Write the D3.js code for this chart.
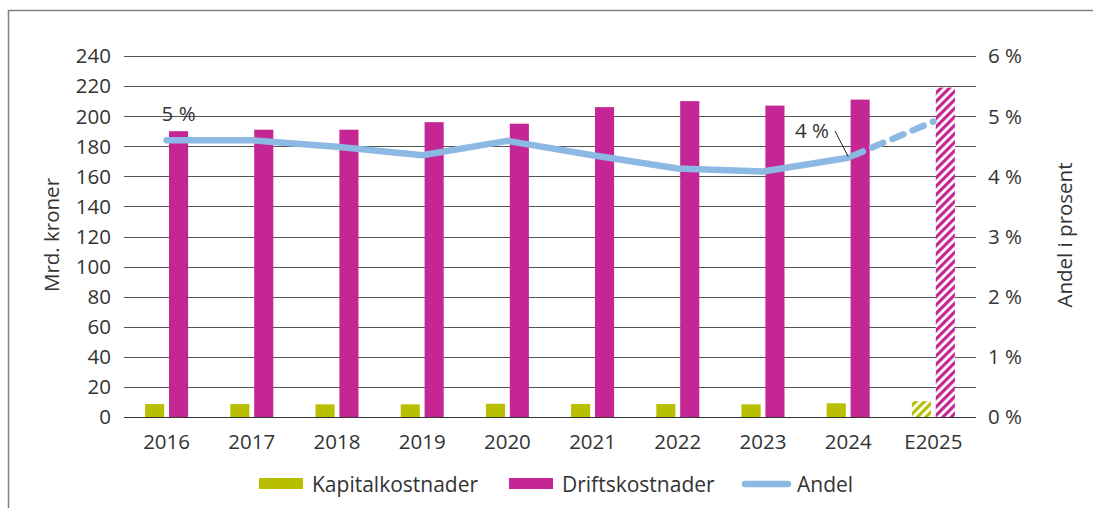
<!DOCTYPE html>
<html>
<head>
<meta charset="utf-8">
<script src="https://cdn.jsdelivr.net/npm/d3@7"></script>
<style>
  body { margin: 0; background: #fff; }
  text { font-family: "Open Sans", sans-serif; fill: #333; }
</style>
</head>
<body>
<div id="chart"></div>
<script>
var years = ["2016", "2017", "2018", "2019", "2020", "2021", "2022", "2023", "2024", "E2025"];
var kapital = [8.6, 8.6, 8.4, 8.4, 8.8, 8.7, 8.6, 8.4, 9.1, 10.6];
var drift = [190, 191, 191, 196, 195, 206, 210, 207, 211, 219];
var andel = [4.60, 4.60, 4.49, 4.35, 4.59, 4.35, 4.13, 4.08, 4.31, 4.91];
var leftTicks = [0, 20, 40, 60, 80, 100, 120, 140, 160, 180, 200, 220, 240];
var rightTicks = [0, 1, 2, 3, 4, 5, 6];

var W = 1093, H = 508;
var fs = 20.5;
var green = "#b8bf00", magenta = "#c42694", blue = "#8cb9e4";

var svg = d3.select("#chart").append("svg")
    .attr("width", W)
    .attr("height", H);

// hatch patterns for the estimate year
var defs = svg.append("defs");
function hatch(id, color) {
    var p = defs.append("pattern")
        .attr("id", id)
        .attr("patternUnits", "userSpaceOnUse")
        .attr("width", 6)
        .attr("height", 6)
        .attr("patternTransform", "rotate(45)");
    p.append("rect").attr("width", 6).attr("height", 6).attr("fill", "#fff");
    p.append("rect").attr("width", 3.2).attr("height", 6).attr("fill", color);
}
hatch("hatchGreen", green);
hatch("hatchMagenta", magenta);

// frame
svg.append("path")
    .attr("d", "M8.5," + H + "V10.5H" + W)
    .attr("fill", "none")
    .attr("stroke", "#808080")
    .attr("stroke-width", 1.5);

var x0 = d3.scaleBand().domain(years).range([124, 976]);
var x1 = d3.scaleBand().domain(["k", "d"]).range([0, 43]).paddingInner(0.2);
var y = d3.scaleLinear().domain([0, 240]).range([417, 56]);
var y2 = d3.scaleLinear().domain([0, 6]).range([417, 56]);

function cx(d) { return x0(d) + x0.bandwidth() / 2; }

// gridlines
svg.append("g")
    .selectAll("line")
    .data(leftTicks)
    .join("line")
    .attr("x1", 124)
    .attr("x2", 976)
    .attr("y1", d => Math.round(y(d)) + 0.5)
    .attr("y2", d => Math.round(y(d)) + 0.5)
    .attr("stroke", d => d == 0 ? "#333" : "#555")
    .attr("stroke-width", 1.2);

// left ticks
svg.append("g")
    .selectAll("text")
    .data(leftTicks)
    .join("text")
    .attr("x", 111)
    .attr("y", d => y(d))
    .attr("dy", "0.36em")
    .attr("text-anchor", "end")
    .attr("font-size", fs)
    .text(d => d);

// right ticks
svg.append("g")
    .selectAll("text")
    .data(rightTicks)
    .join("text")
    .attr("x", 988)
    .attr("y", d => y2(d))
    .attr("dy", "0.36em")
    .attr("font-size", fs)
    .text(d => d + " %");

// category labels
svg.append("g")
    .selectAll("text")
    .data(years)
    .join("text")
    .attr("x", d => cx(d))
    .attr("y", 449)
    .attr("text-anchor", "middle")
    .attr("font-size", fs)
    .text(d => d);

// axis titles
svg.append("text")
    .attr("transform", "translate(59,235) rotate(-90)")
    .attr("text-anchor", "middle")
    .attr("font-size", fs)
    .text("Mrd. kroner");
svg.append("text")
    .attr("transform", "translate(1072,235) rotate(-90)")
    .attr("text-anchor", "middle")
    .attr("font-size", fs)
    .text("Andel i prosent");

// bars
var last = years[years.length - 1];
svg.append("g")
    .selectAll("rect")
    .data(years)
    .join("rect")
    .attr("x", d => cx(d) - 21.5 + x1("k"))
    .attr("width", x1.bandwidth())
    .attr("y", (d, i) => y(kapital[i]))
    .attr("height", (d, i) => y(0) - y(kapital[i]))
    .attr("fill", d => d == last ? "url(#hatchGreen)" : green);

svg.append("g")
    .selectAll("rect")
    .data(years)
    .join("rect")
    .attr("x", d => cx(d) - 21.5 + x1("d"))
    .attr("width", x1.bandwidth())
    .attr("y", (d, i) => y(drift[i]))
    .attr("height", (d, i) => y(0) - y(drift[i]))
    .attr("fill", d => d == last ? "url(#hatchMagenta)" : magenta);

// andel line
var pts = years.map((d, i) => [cx(d), y2(andel[i])]);
var line = d3.line();
svg.append("path")
    .attr("d", line(pts.slice(0, pts.length - 1)))
    .attr("fill", "none")
    .attr("stroke", blue)
    .attr("stroke-width", 6.5)
    .attr("stroke-linejoin", "round")
    .attr("stroke-linecap", "round");
svg.append("path")
    .attr("d", line(pts.slice(pts.length - 2)))
    .attr("fill", "none")
    .attr("stroke", blue)
    .attr("stroke-width", 6.5)
    .attr("stroke-dasharray", "12,10")
    .attr("stroke-dashoffset", -4)
    .attr("stroke-linecap", "round");

// labels on line
svg.append("text")
    .attr("x", pts[0][0] - 5)
    .attr("y", 121)
    .attr("font-size", fs)
    .text("5 %");
svg.append("text")
    .attr("x", 795)
    .attr("y", 138)
    .attr("font-size", fs)
    .text("4 %");
svg.append("line")
    .attr("x1", 835)
    .attr("y1", 131)
    .attr("x2", pts[8][0])
    .attr("y2", pts[8][1] - 1)
    .attr("stroke", "#222")
    .attr("stroke-width", 1);

// legend
var legend = svg.append("g");
legend.append("rect").attr("x", 259).attr("y", 478).attr("width", 44).attr("height", 11).attr("fill", green);
legend.append("text").attr("x", 312).attr("y", 484).attr("dy", "0.36em").attr("font-size", 21).text("Kapitalkostnader");
legend.append("rect").attr("x", 509).attr("y", 478).attr("width", 44).attr("height", 11).attr("fill", magenta);
legend.append("text").attr("x", 562).attr("y", 484).attr("dy", "0.36em").attr("font-size", 21).text("Driftskostnader");
legend.append("line").attr("x1", 745).attr("x2", 788).attr("y1", 484).attr("y2", 484)
    .attr("stroke", blue).attr("stroke-width", 6.5).attr("stroke-linecap", "round");
legend.append("text").attr("x", 797).attr("y", 484).attr("dy", "0.36em").attr("font-size", 21).text("Andel");
</script>
</body>
</html>
